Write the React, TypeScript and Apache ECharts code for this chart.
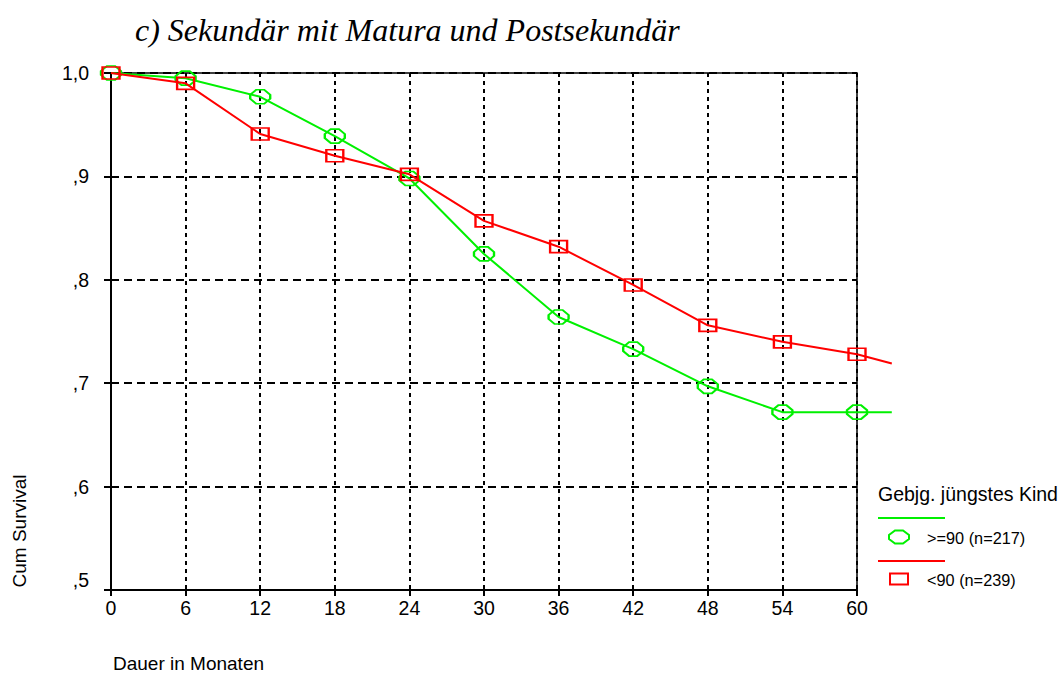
import React, { useEffect, useRef } from "react";
import * as echarts from "echarts";

const months = [0, 6, 12, 18, 24, 30, 36, 42, 48, 54, 60];
const greenValues = [1.0, 0.995, 0.977, 0.939, 0.898, 0.825, 0.764, 0.733, 0.697, 0.672, 0.672];
const redValues = [1.0, 0.99, 0.941, 0.92, 0.902, 0.857, 0.832, 0.795, 0.756, 0.74, 0.728];
const tailMonth = 62.8;
const greenTailValue = 0.672;
const redTailValue = 0.719;
const yTickLabels = [",5", ",6", ",7", ",8", ",9", "1,0"];
const greenName = ">=90 (n=217)";
const redName = "<90 (n=239)";
const legendTitle = "Gebjg. jüngstes Kind";
const chartTitle = "c) Sekundär mit Matura und Postsekundär";
const yName = "Cum Survival";
const xName = "Dauer in Monaten";

const SANS = "'Liberation Sans', Arial, sans-serif";
const SERIF = "'Liberation Serif', 'Times New Roman', serif";
const GREEN = "#00f000";
const RED = "#ff0000";
const OCTAGON = "path://M6,0 L14,0 L20,5 L20,9 L14,14 L6,14 L0,9 L0,5 Z";

const pairs = (vals: number[]) => months.map((m, i) => [m, vals[i]]);
const tail = (vals: number[], t: number) => [
  [months[months.length - 1], vals[vals.length - 1]],
  [tailMonth, t],
];

export default function App() {
  const ref = useRef<HTMLDivElement>(null);
  useEffect(() => {
    if (!ref.current) return;
    const chart = echarts.init(ref.current, undefined, { renderer: "svg" });
    const octPts = (cx: number, cy: number, w: number, h: number) => {
      const a = w * 0.3, b = h * 0.35;
      return [
        [cx - w / 2 + a, cy - h / 2], [cx + w / 2 - a, cy - h / 2],
        [cx + w / 2, cy - h / 2 + b], [cx + w / 2, cy + h / 2 - b],
        [cx + w / 2 - a, cy + h / 2], [cx - w / 2 + a, cy + h / 2],
        [cx - w / 2, cy + h / 2 - b], [cx - w / 2, cy - h / 2 + b],
      ];
    };
    const hiddenAxis = {
      show: false,
      axisLine: { show: false }, axisTick: { show: false },
      axisLabel: { show: false }, splitLine: { show: false },
    };
    chart.setOption({
      animation: false,
      backgroundColor: "#fff",
      grid: [
        {
          left: 111, right: 207, top: 73, bottom: 83,
          show: true, borderColor: "#000", borderWidth: 1.5,
        },
        { left: 857, width: 34.8, top: 73, bottom: 83, show: false },
      ],
      xAxis: [
        {
          type: "value", min: 0, max: 60, interval: 6, gridIndex: 0,
          axisLine: { show: true, onZero: false, lineStyle: { color: "#000", width: 2 } },
          axisTick: { show: true, length: 6, lineStyle: { color: "#000", width: 2 } },
          axisLabel: { color: "#000", fontSize: 19.5, fontFamily: SANS, margin: 8 },
          splitLine: { show: true, lineStyle: { color: "#000", width: 2, type: [4, 4] } },
        },
        { type: "value", min: 60, max: tailMonth, gridIndex: 1, ...hiddenAxis },
      ],
      yAxis: [
        {
          type: "value", min: 0.5, max: 1.0, interval: 0.1, gridIndex: 0,
          axisLine: { show: true, onZero: false, lineStyle: { color: "#000", width: 2 } },
          axisTick: { show: true, length: 7, lineStyle: { color: "#000", width: 2 } },
          axisLabel: {
            color: "#000", fontSize: 19.5, fontFamily: SANS, margin: 22,
            verticalAlignMinLabel: "bottom",
            formatter: (v: number) => yTickLabels[Math.round((v - 0.5) * 10)] ?? "",
          },
          splitLine: { show: true, lineStyle: { color: "#000", width: 2, type: [8, 5] } },
        },
        { type: "value", min: 0.5, max: 1.0, gridIndex: 1, ...hiddenAxis },
      ],
      series: [
        {
          name: greenName + " tail", type: "line", xAxisIndex: 1, yAxisIndex: 1,
          data: tail(greenValues, greenTailValue), symbol: "none", clip: false,
          lineStyle: { color: GREEN, width: 2 }, z: 2,
        },
        {
          name: redName + " tail", type: "line", xAxisIndex: 1, yAxisIndex: 1,
          data: tail(redValues, redTailValue), symbol: "none", clip: false,
          lineStyle: { color: RED, width: 2 }, z: 2,
        },
        {
          name: greenName, type: "line", clip: false,
          data: pairs(greenValues),
          symbol: OCTAGON, symbolSize: [20, 14], symbolKeepAspect: false,
          lineStyle: { color: GREEN, width: 2 },
          itemStyle: { color: "rgba(0,0,0,0)", borderColor: GREEN, borderWidth: 2 },
          z: 3,
        },
        {
          name: redName, type: "line", clip: false,
          data: pairs(redValues),
          symbol: "rect", symbolSize: [17, 12],
          lineStyle: { color: RED, width: 2 },
          itemStyle: { color: "rgba(0,0,0,0)", borderColor: RED, borderWidth: 2 },
          z: 4,
        },
      ],
      graphic: [
        {
          type: "text", x: 135, y: 30,
          style: {
            text: chartTitle, fill: "#000", fontSize: 32, fontFamily: SERIF,
            fontStyle: "italic", verticalAlign: "middle", align: "left",
          },
        },
        {
          type: "text", x: 19, y: 531, rotation: Math.PI / 2,
          style: {
            text: yName, fill: "#000", fontSize: 19, fontFamily: SANS,
            verticalAlign: "middle", align: "center",
          },
        },
        {
          type: "text", x: 113, y: 663,
          style: {
            text: xName, fill: "#000", fontSize: 19, fontFamily: SANS,
            verticalAlign: "middle", align: "left",
          },
        },
        {
          type: "text", x: 878, y: 494,
          style: {
            text: legendTitle, fill: "#000", fontSize: 19.5, fontFamily: SANS,
            verticalAlign: "middle", align: "left",
          },
        },
        {
          type: "line", shape: { x1: 878, y1: 518, x2: 945, y2: 518 },
          style: { stroke: GREEN, lineWidth: 2 },
        },
        {
          type: "polygon", shape: { points: octPts(899, 537, 20, 13) },
          style: { fill: "none", stroke: GREEN, lineWidth: 2 },
        },
        {
          type: "text", x: 927, y: 538,
          style: {
            text: greenName, fill: "#000", fontSize: 16.3, fontFamily: SANS,
            verticalAlign: "middle", align: "left",
          },
        },
        {
          type: "line", shape: { x1: 878, y1: 561, x2: 945, y2: 561 },
          style: { stroke: RED, lineWidth: 2 },
        },
        {
          type: "rect", shape: { x: 890, y: 573.5, width: 18, height: 11 },
          style: { fill: "none", stroke: RED, lineWidth: 2 },
        },
        {
          type: "text", x: 927, y: 580,
          style: {
            text: redName, fill: "#000", fontSize: 16.3, fontFamily: SANS,
            verticalAlign: "middle", align: "left",
          },
        },
      ],
    });
    return () => chart.dispose();
  }, []);
  return (
    <div
      ref={ref}
      style={{ position: "absolute", left: 0, top: 0, width: 1064, height: 673 }}
    />
  );
}
